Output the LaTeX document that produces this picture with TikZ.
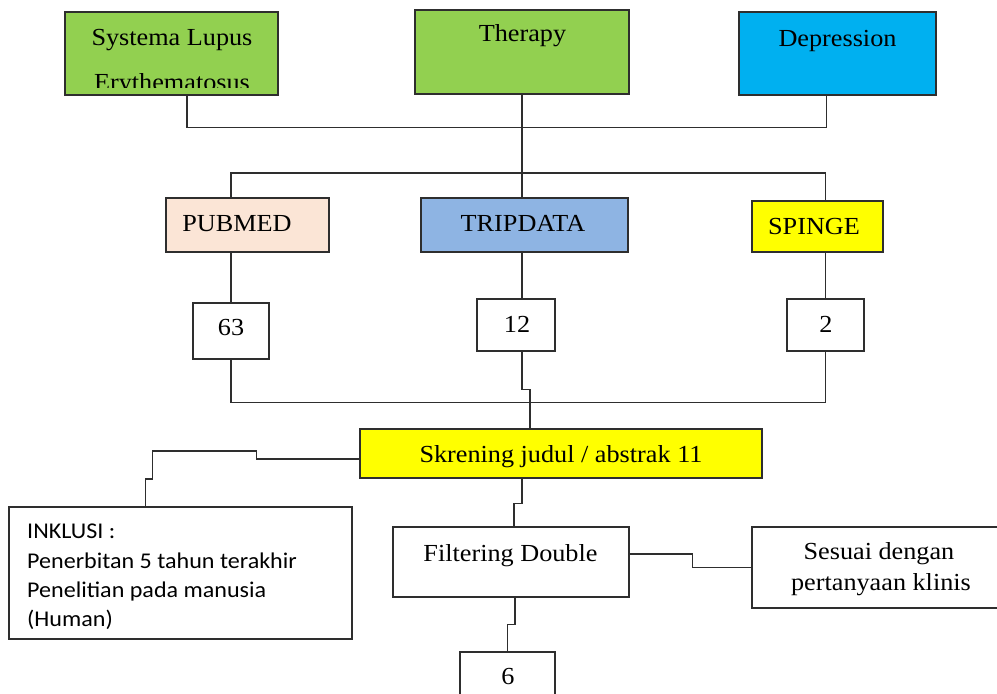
\documentclass[tikz,border=0pt]{standalone}
\usepackage{fontspec}
\setmainfont{Liberation Serif}[FakeStretch=1.07]
\newfontfamily\calib{Carlito}[FakeStretch=1.07]
\usetikzlibrary{calc}
\definecolor{sleg}{HTML}{92D050}
\definecolor{depb}{HTML}{00B0F0}
\definecolor{pubc}{HTML}{FBE5D6}
\definecolor{tripc}{HTML}{8EB4E3}
\definecolor{yel}{HTML}{FFFF00}
\definecolor{bord}{HTML}{2E2E2E}
\begin{document}
\begin{tikzpicture}[x=1pt,y=-1pt,
  box/.style={draw=bord, line width=1.4pt, rectangle, inner sep=0pt},
  txt/.style={inner sep=0pt, anchor=base, font=\fontsize{24.5}{29}\selectfont, text=black},
  stxt/.style={inner sep=0pt, anchor=base west, font=\calib\fontsize{22.5}{29}\selectfont, text=black},
  conn/.style={draw=bord, line width=1.3pt}]
\fill[white] (0,0) rectangle (997,694);
\useasboundingbox (0,0) rectangle (997,694);

% boxes
\node[box, fill=sleg, minimum width=213pt, minimum height=83pt] (sle) at (171.5,53.5) {};
\node[box, fill=sleg, minimum width=214pt, minimum height=84pt] (ther) at (522,52) {};
\node[box, fill=depb, minimum width=197pt, minimum height=83pt] (dep) at (837.5,53.5) {};
\node[box, fill=pubc, minimum width=163pt, minimum height=54pt] (pub) at (247.5,225) {};
\node[box, fill=tripc, minimum width=207pt, minimum height=54pt] (trip) at (524.5,225) {};
\node[box, fill=yel, minimum width=131pt, minimum height=51pt] (spi) at (817.5,226.5) {};
\node[box, fill=white, minimum width=76pt, minimum height=56pt] (b63) at (231,331) {};
\node[box, fill=white, minimum width=78pt, minimum height=52pt] (b12) at (516,325) {};
\node[box, fill=white, minimum width=77pt, minimum height=52pt] (b2) at (825.5,325) {};
\node[box, fill=yel, minimum width=402pt, minimum height=49pt] (skr) at (561,453.5) {};
\node[box, fill=white, minimum width=343pt, minimum height=132pt] (ink) at (180.5,573) {};
\node[box, fill=white, minimum width=236pt, minimum height=70pt] (filt) at (511,562) {};
\node[box, fill=white, minimum width=250pt, minimum height=81pt] (ses) at (877,567.5) {};
\node[box, fill=white, minimum width=95pt, minimum height=76pt] (b6) at (507.5,690) {};

% texts
\node[txt] (sleA) at (172,45) {Systema Lupus};
\begin{scope}
\clip (66,13) rectangle (277,87);
\node[txt] (sleB) at (172,90) {Erythematosus};
\end{scope}
\node[txt] (therT) at (522.5,41) {Therapy};
\node[txt] (depT) at (837.5,46) {Depression};
\node[txt] (pubT) at (237,231) {PUBMED};
\node[txt] (tripT) at (523,231) {TRIPDATA};
\node[txt] (spiT) at (814,234) {SPINGE};
\node[txt] (t63) at (231,335) {63};
\node[txt] (t12) at (517,332) {12};
\node[txt] (t2) at (826,332) {2};
\node[txt] (skrT) at (561,462) {Skrening judul / abstrak 11};
\node[stxt] (inkA) at (27,538) {INKLUSI :};
\node[stxt] (inkB) at (27,568) {Penerbitan 5 tahun terakhir};
\node[stxt] (inkC) at (27,597) {Penelitian pada manusia};
\node[stxt] (inkD) at (27,626) {(Human)};
\node[txt] (filtT) at (510.5,561) {Filtering Double};
\node[txt] (sesA) at (879,559) {Sesuai dengan};
\node[txt] (sesB) at (881,590) {pertanyaan klinis};
\node[txt] (t6) at (508,684) {6};

% connectors
\coordinate (hub) at (522,173);
\draw[conn] ([xshift=15.5pt]sle.south) -- ++(0,32) -| ([xshift=-11pt]dep.south);
\draw[conn] (ther.south) -- (ther.south |- trip.north);
\draw[conn] (b63.north |- pub.north) |- (hub) -| (b2.north |- spi.north);
\draw[conn] (b63.north |- pub.south) -- (b63.north);
\draw[conn] (trip.south -| ther.south) -- (b12.north -| ther.south);
\draw[conn] (spi.south -| b2.north) -- (b2.north);
\draw[conn] (b63.south) -- ++(0,43) -| (b2.south);
\draw[conn] (b12.south -| ther.south) -- ++(0,38) -| ($(skr.north)+(-31,0)$);
\draw[conn] ($(skr.west)+(0,5.5)$) -- ++(-103,0) -- ++(0,-8) -- ++(-104,0) -- ++(0,28) -- ++(-7,0) -- ++(0,28);
\draw[conn] ($(skr.south)+(-39,0)$) -- ++(0,25) -| ($(filt.north)+(3,0)$);
\draw[conn] ($(filt.east)+(0,-8)$) -- ++(63,0) |- (ses.west);
\draw[conn] ($(filt.south)+(4,0)$) -- ++(0,27) -| (b6.north);
\end{tikzpicture}
\end{document}
